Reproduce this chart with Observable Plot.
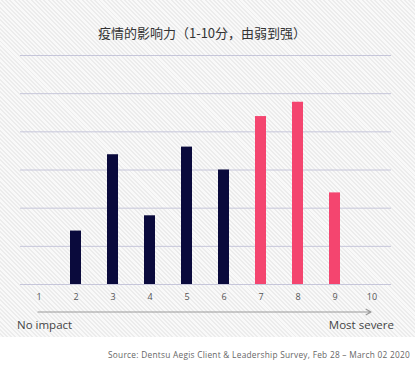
<!DOCTYPE html>
<html>
<head>
<meta charset="utf-8">
<script src="https://cdn.jsdelivr.net/npm/d3@7"></script>
<script src="https://cdn.jsdelivr.net/npm/@observablehq/plot@0.6"></script>
<style>
  html, body { margin: 0; padding: 0; background: #fff; }
  #wrap { position: relative; width: 415px; height: 371px; overflow: hidden; }
  #hatch { position: absolute; left: 0; top: 0; width: 415px; height: 337px;
    background: repeating-linear-gradient(45deg, #f9f9f9 0px, #f9f9f9 1.6px, #ececec 1.6px, #ececec 3px); }
  #title { position: absolute; left: 0; width: 404px; top: 23px; text-align: center;
    font-family: "Noto Sans CJK SC", "Noto Sans", sans-serif; font-size: 13px; color: #333; }
  #source { position: absolute; right: 5px; top: 349px; font-family: "Open Sans", "Noto Sans", sans-serif;
    font-size: 8.3px; color: #666; letter-spacing: 0.27px; white-space: nowrap; }
  #chart { position: absolute; left: 0; top: 0; }
</style>
</head>
<body>
<div id="wrap">
  <div id="hatch"></div>
  <div id="chart"></div>
  <div id="title">疫情的影响力（1-10分，由弱到强）</div>
  <div id="source">Source: Dentsu Aegis Client &amp; Leadership Survey, Feb 28 – March 02 2020</div>
</div>
<script>
const scores = ["1","2","3","4","5","6","7","8","9","10"];
const shares = [0, 5.6, 13.6, 7.2, 14.4, 12.0, 17.6, 19.1, 9.6, 0];
const groups = ["low","low","low","low","low","low","high","high","high","high"];
const gridTicks = [0, 4, 8, 12, 16, 20, 24];
const startLabel = "No impact";
const endLabel = "Most severe";

const data = scores.map((s, i) => ({score: s, share: shares[i], group: groups[i]}));

const chart = Plot.plot({
  width: 415,
  height: 371,
  marginTop: 55,
  marginBottom: 87,
  marginLeft: 20,
  marginRight: 24,
  style: {background: "transparent", fontFamily: "'Open Sans', 'Noto Sans', sans-serif"},
  x: {type: "band", domain: scores, paddingInner: 0.69, paddingOuter: 0.345, label: null},
  y: {domain: [0, 24], axis: null},
  color: {domain: ["low", "high"], range: ["#0a0a3c", "#f4456f"]},
  marks: [
    Plot.ruleY(gridTicks, {stroke: "#c6c6da", strokeWidth: 1}),
    Plot.barY(data, {x: "score", y: "share", fill: "group"}),
    Plot.axisX({tickSize: 0, tickPadding: 9, fontSize: 9, color: "#555", label: null}),
    Plot.arrow([{a: "1", b: "10"}], {x1: "a", x2: "b", y1: 0, y2: 0, dy: 27.5, dx: -1,
      stroke: "#9a9a9a", strokeWidth: 1.2, headLength: 7, bend: 0}),
    Plot.text([startLabel], {x: () => "1", y: 0, text: d => d, dy: 41, dx: -22,
      textAnchor: "start", fontSize: 11.5, fill: "#444"}),
    Plot.text([endLabel], {x: () => "10", y: 0, text: d => d, dy: 41, dx: 22,
      textAnchor: "end", fontSize: 11.5, fill: "#444"})
  ]
});
document.getElementById("chart").appendChild(chart);
</script>
</body>
</html>
